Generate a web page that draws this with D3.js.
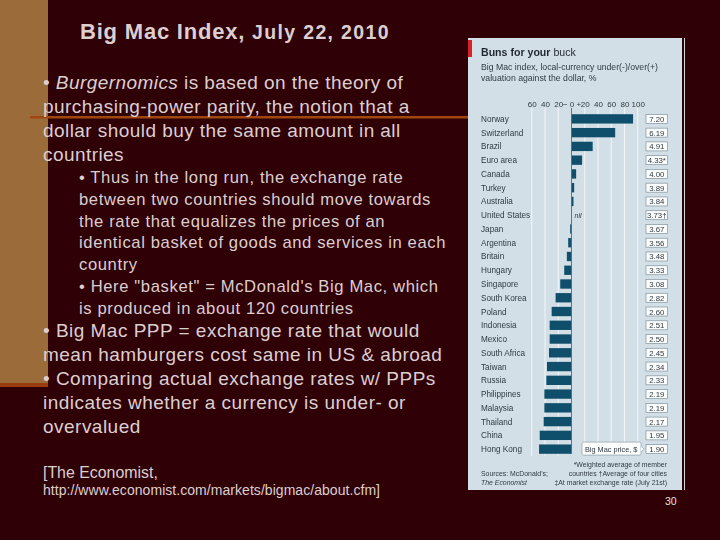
<!DOCTYPE html>
<html><head><meta charset="utf-8">
<script src="https://cdn.jsdelivr.net/npm/d3@7/dist/d3.min.js"></script>
<style>
html,body{margin:0;padding:0;background:#2f0006;}
svg{display:block;}
text{font-family:"Liberation Sans",Arial,sans-serif;}
</style></head><body>
<svg id="c" width="720" height="540"></svg>
<script>
const countries=["Norway","Switzerland","Brazil","Euro area","Canada","Turkey","Australia","United States","Japan","Argentina","Britain","Hungary","Singapore","South Korea","Poland","Indonesia","Mexico","South Africa","Taiwan","Russia","Philippines","Malaysia","Thailand","China","Hong Kong"];
const valuation=[93,66,32,16,7,4,3,null,-2,-5,-7,-11,-17,-24,-30,-33,-33,-34,-37,-38,-41,-41,-42,-48,-49];
const prices=["7.20","6.19","4.91","4.33*","4.00","3.89","3.84","3.73†","3.67","3.56","3.48","3.33","3.08","2.82","2.60","2.51","2.50","2.45","2.34","2.33","2.19","2.19","2.17","1.95","1.90"];
const axisTicks=[-60,-40,-20,0,20,40,60,80,100];
const axisLabels=["60","40","20","− 0 +","20","40","60","80","100"];
const bulletsA=[[{t:"• "},{t:"Burgernomics",i:1},{t:" is based on the theory of"}],[{t:"purchasing-power parity, the notion that a"}],[{t:"dollar should buy the same amount in all"}],[{t:"countries"}]];
const bulletsB=["• Thus in the long run, the exchange rate","between two countries should move towards","the rate that equalizes the prices of an","identical basket of goods and services in each","country","• Here \"basket\" = McDonald's Big Mac, which","is produced in about 120 countries"];
const bulletsC=["• Big Mac PPP = exchange rate that would","mean hamburgers cost same in US & abroad","• Comparing actual exchange rates w/ PPPs","indicates whether a currency is under- or","overvalued"];

const svg=d3.select("#c");
const TXT="#dccfd0";
svg.append("rect").attr("width",720).attr("height",540).attr("fill","#2f0006");
svg.append("rect").attr("x",0).attr("y",0).attr("width",48).attr("height",383).attr("fill","#9c6b3a");
svg.append("rect").attr("x",0).attr("y",383).attr("width",48).attr("height",4).attr("fill","#9a3c0c");
svg.append("rect").attr("x",30).attr("y",116).attr("width",440).attr("height",2.5).attr("fill","#a0470f");

const title=svg.append("text").attr("x",80).attr("y",39).attr("fill",TXT).attr("font-weight","bold");
title.append("tspan").attr("font-size",22).attr("letter-spacing",0.8).text("Big Mac Index,");
title.append("tspan").attr("font-size",19.5).attr("letter-spacing",1.35).text(" July 22, 2010");

function para(lines,x,y0,lh,fs,ls){
  lines.forEach((l,i)=>{
    const t=svg.append("text").attr("x",x).attr("y",y0+i*lh).attr("fill",TXT).attr("font-size",fs).attr("letter-spacing",ls||0);
    (Array.isArray(l)?l:[{t:l}]).forEach(s=>t.append("tspan").attr("font-style",s.i?"italic":"normal").text(s.t));
  });
}
para(bulletsA,43,89,24,19,0.44);
para(bulletsB,79,183,21.8,16.6,0.62);
para(bulletsC,43,337,24,19,0.48);
svg.append("text").attr("x",43).attr("y",478).attr("fill",TXT).attr("font-size",15.9).text("[The Economist,");
svg.append("text").attr("x",43).attr("y",495).attr("fill",TXT).attr("font-size",14).attr("letter-spacing",0.05).text("http://www.economist.com/markets/bigmac/about.cfm]");
svg.append("text").attr("x",665).attr("y",505).attr("fill","#e4e0e0").attr("font-size",10.5).text("30");

// Chart panel
const g=svg.append("g").style("filter","blur(0.35px)");
g.append("rect").attr("x",468).attr("y",38).attr("width",214).attr("height",452).attr("fill","#d3dfe6");
g.append("rect").attr("x",684).attr("y",38).attr("width",1).attr("height",452).attr("fill","#cfd6da");
g.append("rect").attr("x",468).attr("y",40).attr("width",4).attr("height",17).attr("fill","#d8202a");
const ink="#2f3a42";
const h=g.append("text").attr("x",481).attr("y",56).attr("font-size",10.6).attr("fill","#1f282e");
h.append("tspan").attr("font-weight","bold").text("Buns for your");
h.append("tspan").text(" buck");
g.append("text").attr("x",481).attr("y",70).attr("font-size",8.7).attr("fill",ink).text("Big Mac index, local-currency under(-)/over(+)");
g.append("text").attr("x",481).attr("y",81).attr("font-size",8.7).attr("fill",ink).text("valuation against the dollar, %");

const x=d3.scaleLinear().domain([0,100]).range([571.5,637.7]);
const y=d3.scaleBand().domain(countries).range([112,456]).paddingInner(0.32).paddingOuter(0.16);

const gridBottom=v=>(v>0?y("China")+y.bandwidth()+3:y("Hong Kong")+y.bandwidth()+2);
g.selectAll("line.grid").data(axisTicks.filter(d=>d!==0)).join("line")
  .attr("x1",d=>x(d)).attr("x2",d=>x(d)).attr("y1",108).attr("y2",gridBottom)
  .attr("stroke","#f2f6f8").attr("stroke-width",1);

const axis=d3.axisTop(x).tickValues(axisTicks).tickSize(0).tickPadding(0)
  .tickFormat((d,i)=>axisLabels[i]);
const ag=g.append("g").attr("transform","translate(0,106.5)").call(axis);
ag.select(".domain").remove();
ag.selectAll("text").attr("font-size",8).attr("fill",ink).style("font-family",'"Liberation Sans",Arial,sans-serif');

g.selectAll("rect.bar").data(countries.map((c,i)=>({c,v:valuation[i]})).filter(d=>d.v!==null)).join("rect")
  .attr("x",d=>Math.min(x(0),x(d.v))).attr("width",d=>Math.abs(x(d.v)-x(0)))
  .attr("y",d=>y(d.c)).attr("height",y.bandwidth()).attr("fill","#0f4f6c");
g.append("line").attr("x1",x(0)).attr("x2",x(0)).attr("y1",108).attr("y2",454).attr("stroke","#b8404a").attr("stroke-width",0.9);
g.append("text").attr("x",x(0)+3).attr("y",y("United States")+y.bandwidth()/2+3).attr("font-size",7).attr("font-style","italic").attr("fill",ink).text("nil");

g.selectAll("text.country").data(countries).join("text")
  .attr("x",481).attr("y",d=>y(d)+y.bandwidth()/2+3).attr("font-size",8.2).attr("fill",ink).text(d=>d);

const boxW=21.5, boxX=646;
g.selectAll("rect.pb").data(countries).join("rect")
  .attr("x",boxX).attr("y",d=>y(d)+y.bandwidth()/2-4.5).attr("width",boxW).attr("height",9)
  .attr("fill","#fbfcfc").attr("stroke","#7f929e").attr("stroke-width",0.7);
g.selectAll("text.pt").data(countries).join("text")
  .attr("x",boxX+boxW/2).attr("y",(d)=>y(d)+y.bandwidth()/2+3).attr("text-anchor","middle")
  .attr("font-size",7.8).attr("fill",ink).text((d,i)=>prices[i]);

// Callout
const hk=y("Hong Kong")+y.bandwidth()/2;
g.append("rect").attr("x",582).attr("y",hk-7).attr("width",59).attr("height",13).attr("rx",1.5).attr("fill","#fbfcfc").attr("stroke","#7f929e").attr("stroke-width",0.6);
g.append("path").attr("d",d3.line()([[641,hk-3],[644,hk],[641,hk+3]])).attr("fill","#fbfcfc").attr("stroke","#7f929e").attr("stroke-width",0.6);
g.append("text").attr("x",585).attr("y",hk+2.5).attr("font-size",7.3).attr("fill",ink).text("Big Mac price, $");

// Footnotes
const fn=(t,xx,yy,anc,st)=>g.append("text").attr("x",xx).attr("y",yy).attr("text-anchor",anc||"start").attr("font-size",6.9).attr("font-style",st||"normal").attr("fill",ink).text(t);
fn("Sources: McDonald's;",481,476);
fn("The Economist",481,485,"start","italic");
fn("*Weighted average of member",667,467,"end");
fn("countries  †Average of four cities",667,476,"end");
fn("‡At market exchange rate (July 21st)",667,485,"end");
</script>
</body></html>
